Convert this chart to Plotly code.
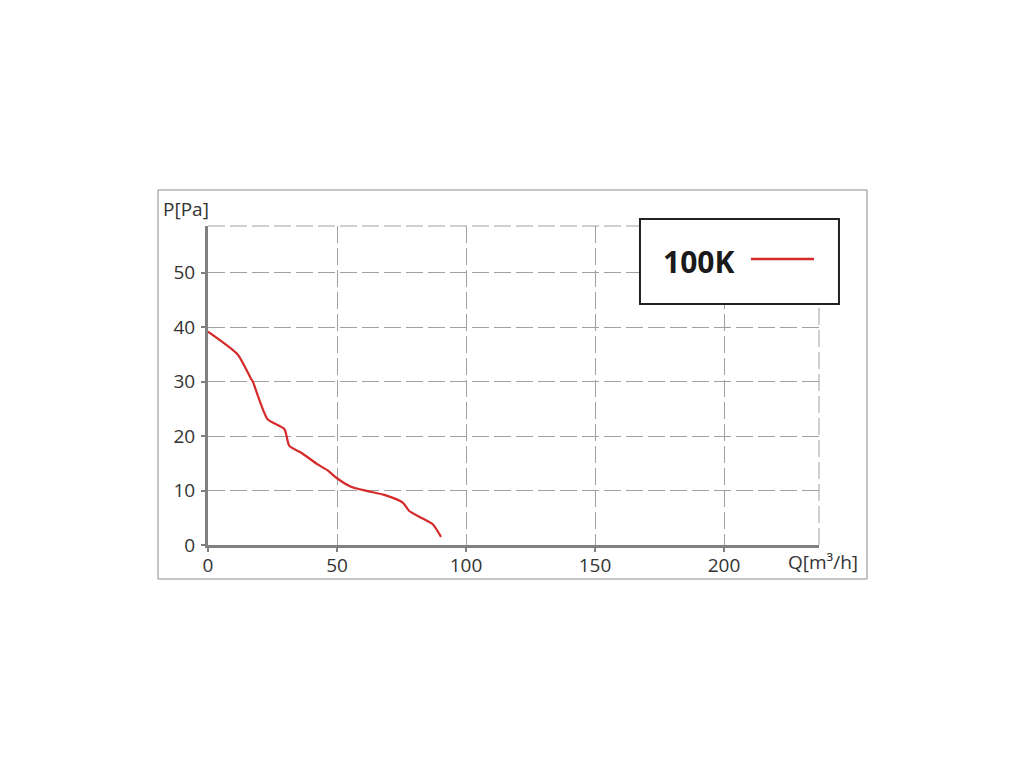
import plotly.graph_objects as go

q_values = [0, 11.5, 16.7, 17.3, 23.1, 29.6, 31.5, 36.0, 42.5, 46.4, 49.6, 55.4, 61.9, 68.3, 75.5, 78.0, 82.6, 87.1, 90.3]
p_values = [39.2, 35.0, 30.5, 30.1, 23.1, 21.3, 18.2, 17.0, 14.8, 13.7, 12.4, 10.7, 9.9, 9.2, 7.8, 6.25, 5.0, 3.8, 1.5]
series_name = "100K"
x_ticks = [0, 50, 100, 150, 200]
y_ticks = [0, 10, 20, 30, 40, 50]
x_max = 236.8
y_max = 58.6

FONT = "Open Sans"
GRID = "#a0a0a0"
AXIS = "#808080"

fig = go.Figure()
fig.add_trace(go.Scatter(x=q_values, y=p_values, mode="lines", name=series_name,
                         line=dict(color="#d42a2a", width=2.2, shape="spline", smoothing=0.6),
                         showlegend=False))

fig.update_layout(
    width=1024, height=768,
    paper_bgcolor="white", plot_bgcolor="white",
    margin=dict(l=200, r=213, t=218, b=231),
    font=dict(family=FONT, size=19, color="#333333"),
    xaxis=dict(range=[0, x_max], tickvals=x_ticks, showgrid=True, gridcolor=GRID, gridwidth=1,
               griddash="17px,5px", zeroline=False, showline=True, linecolor=AXIS, linewidth=3,
               ticks="outside", ticklen=4, tickcolor=AXIS, tickwidth=2, fixedrange=True,
               ticklabelstandoff=-3),
    yaxis=dict(range=[0, y_max], tickvals=y_ticks, showgrid=True, gridcolor=GRID, gridwidth=1,
               griddash="17px,5px", zeroline=False, showline=True, linecolor=AXIS, linewidth=3,
               ticks="outside", ticklen=4, tickcolor=AXIS, tickwidth=2, fixedrange=True,
               ticklabelstandoff=2),
    shapes=[
        dict(type="line", xref="paper", yref="paper", x0=0, x1=1, y0=1, y1=1,
             line=dict(color=GRID, width=1, dash="17px,5px")),
        dict(type="line", xref="paper", yref="paper", x0=1, x1=1, y0=0, y1=1,
             line=dict(color=GRID, width=1, dash="17px,5px")),
        dict(type="rect", xref="paper", yref="paper", x0=-0.0818, x1=1.0786, y0=-0.1066, y1=1.1129,
             line=dict(color="#8c8c8c", width=1), layer="below"),
        dict(type="rect", xref="paper", yref="paper", x0=0.707, x1=1.0327, y0=0.7555, y1=1.022,
             line=dict(color="#222222", width=2), fillcolor="white", layer="above"),
        dict(type="line", xref="paper", yref="paper", x0=0.8887, x1=0.9918, y0=0.8966, y1=0.8966,
             line=dict(color="#d42a2a", width=2.5)),
    ],
    annotations=[
        dict(text=series_name, xref="paper", yref="paper", x=0.8036, y=0.890, showarrow=False,
             font=dict(family=FONT, size=30, color="#1a1a1a", weight="bold"), xanchor="center", yanchor="middle"),
        dict(text="P[Pa]", xref="paper", yref="paper", x=-0.036, y=1.053, showarrow=False,
             xanchor="center", yanchor="middle", font=dict(family=FONT, size=19, color="#333333")),
        dict(text="Q[m³/h]", xref="paper", yref="paper", x=1.007, y=-0.053, showarrow=False,
             xanchor="center", yanchor="middle", font=dict(family=FONT, size=19, color="#333333")),
    ],
)

fig.write_html("out.html")
